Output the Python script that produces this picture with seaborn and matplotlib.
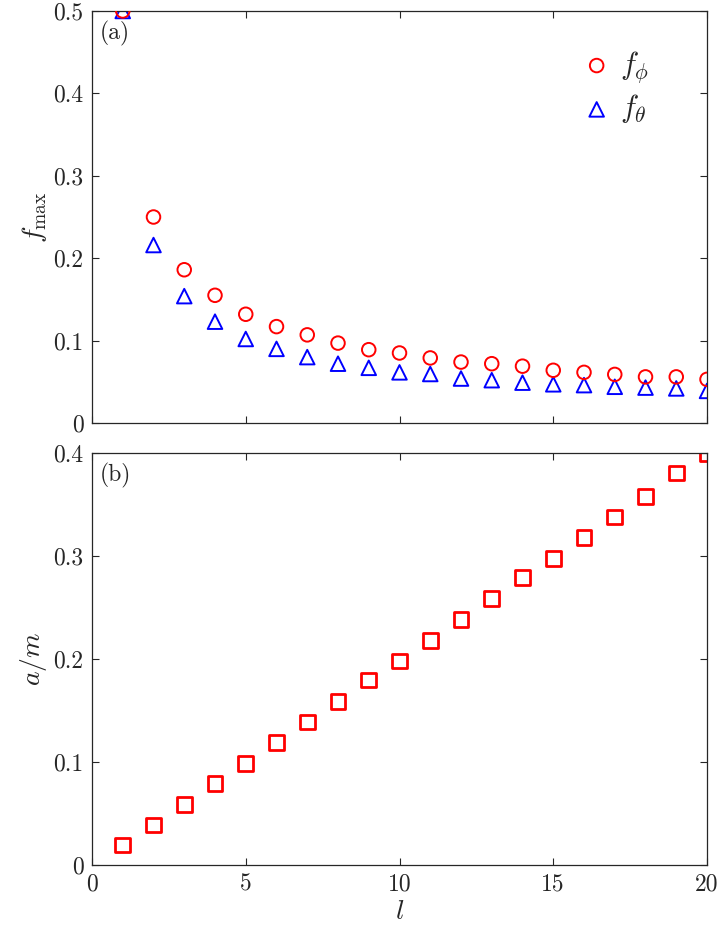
import numpy as np
import pandas as pd
import matplotlib
matplotlib.use("Agg")
import matplotlib.pyplot as plt
from matplotlib.ticker import FuncFormatter
import seaborn as sns

# ── data ─────────────────────────────────────────────────────
l_vals = list(range(1, 21))
f_phi = [0.500, 0.250, 0.186, 0.155, 0.132, 0.117, 0.107, 0.097, 0.089, 0.085,
         0.079, 0.074, 0.072, 0.069, 0.064, 0.0615, 0.059, 0.056, 0.056, 0.053]
f_theta = [0.500, 0.216, 0.154, 0.123, 0.102, 0.090, 0.080, 0.072, 0.067, 0.0615,
           0.0595, 0.054, 0.052, 0.049, 0.047, 0.046, 0.044, 0.043, 0.042, 0.039]
a_over_m = [0.0194, 0.039, 0.059, 0.079, 0.0986, 0.119, 0.139, 0.159, 0.1797, 0.198,
            0.218, 0.2386, 0.2589, 0.279, 0.2975, 0.318, 0.338, 0.358, 0.3805, 0.399]

top_df = pd.DataFrame({"l": l_vals, "f_phi": f_phi, "f_theta": f_theta})
bot_df = pd.DataFrame({"l": l_vals, "a_m": a_over_m})

# ── style ────────────────────────────────────────────────────
sns.set_theme(style="ticks")
plt.rcParams["font.family"] = "serif"
plt.rcParams["font.serif"] = ["cmr10", "DejaVu Serif"]
plt.rcParams["mathtext.fontset"] = "cm"
plt.rcParams["axes.formatter.use_mathtext"] = True
plt.rcParams["axes.unicode_minus"] = False

axis_col = "#262626"
fmt = FuncFormatter(lambda v, p: f"{v:g}")

fig = plt.figure(figsize=(7.21, 9.38), dpi=100)
ax1 = fig.add_axes([0.1276, 0.549, 0.853, 0.4393])
ax2 = fig.add_axes([0.1276, 0.0778, 0.853, 0.4393])

# (a) f_max
sns.scatterplot(data=top_df, x="l", y="f_phi", ax=ax1, marker="o", s=95,
                color="red", facecolor="none", edgecolor="red", linewidth=1.4,
                label=r"$f_\phi$", zorder=3)
sns.scatterplot(data=top_df, x="l", y="f_theta", ax=ax1, marker="^", s=110,
                color="blue", facecolor="none", edgecolor="blue", linewidth=1.4,
                label=r"$f_\theta$", zorder=2)

# (b) a/m
sns.scatterplot(data=bot_df, x="l", y="a_m", ax=ax2, marker="s", s=110,
                color="red", facecolor="none", edgecolor="red", linewidth=2.0,
                legend=False)

for ax, ymax, yt in [(ax1, 0.5, np.arange(0, 0.51, 0.1)),
                     (ax2, 0.4, np.arange(0, 0.41, 0.1))]:
    ax.set_xlim(0, 20)
    ax.set_ylim(0, ymax)
    ax.set_xticks([0, 5, 10, 15, 20])
    ax.set_yticks(yt)
    ax.yaxis.set_major_formatter(fmt)
    ax.xaxis.set_major_formatter(fmt)
    ax.tick_params(direction="in", length=5, width=0.8, top=True, right=True,
                   labelsize=17, colors=axis_col, labelcolor=axis_col, pad=6)
    for sp in ax.spines.values():
        sp.set_visible(True)
        sp.set_color(axis_col)
        sp.set_linewidth(0.9)

ax1.tick_params(labelbottom=False)
ax1.set_xlabel("")
ax1.set_ylabel(r"$f_{\max}$", fontsize=20, labelpad=3)
ax2.set_ylabel(r"$a/m$", fontsize=20, labelpad=3)
ax2.set_xlabel(r"$l$", fontsize=20, labelpad=2)

ax1.text(0.012, 0.975, "(a)", transform=ax1.transAxes, fontsize=17,
         va="top", ha="left")
ax2.text(0.012, 0.975, "(b)", transform=ax2.transAxes, fontsize=17,
         va="top", ha="left")

leg = ax1.legend(loc="upper right", bbox_to_anchor=(0.95, 0.975), frameon=False,
                 fontsize=22, handletextpad=0.15, labelspacing=0.25,
                 handlelength=1.2)

fig.savefig("out.png", dpi=100)
